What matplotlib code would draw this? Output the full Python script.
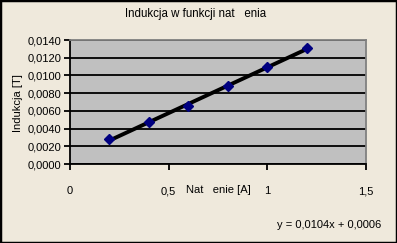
import numpy as np
import matplotlib.pyplot as plt
from matplotlib.ticker import FuncFormatter

plt.rcParams['font.family'] = ['Liberation Sans', 'DejaVu Sans']

# measured data: current [A] vs induction [T]
natezenie = [0.2, 0.4, 0.6, 0.8, 1.0, 1.2]
indukcja = [0.0028, 0.0047, 0.0066, 0.0088, 0.0109, 0.0131]

x_ticks = [0, 0.5, 1, 1.5]
x_tick_labels = ['0', '0,5', '1', '1,5']
y_ticks = np.arange(0, 0.0141, 0.002)

bg = '#EFE9DC'

fig = plt.figure(figsize=(3.97, 2.43), dpi=100, facecolor=bg)
W, H = 397, 243
ax = fig.add_axes([70 / W, 1 - 164 / H, 296 / W, 124 / H])
ax.set_facecolor('#C0C0C0')

# linear trendline
a, b = np.polyfit(natezenie, indukcja, 1)
xs = np.array([min(natezenie), max(natezenie)])
ax.plot(xs, a * xs + b, color='black', lw=2.8, zorder=3)
ax.plot(natezenie, indukcja, 'D', color='#000080', ms=4.8, zorder=4)

ax.set_xlim(0, 1.5)
ax.set_ylim(0, 0.014)
ax.set_xticks(x_ticks)
ax.set_xticklabels(x_tick_labels)
ax.set_yticks(y_ticks)
ax.yaxis.set_major_formatter(FuncFormatter(lambda v, p: f'{v:.4f}'.replace('.', ',')))
ax.grid(axis='y', color='black', lw=1.3)
ax.set_axisbelow(True)

ax.tick_params(axis='both', direction='out', length=4, width=1.3, labelsize=8, colors='black')
ax.tick_params(axis='x', pad=12)
ax.tick_params(axis='y', pad=2)
for s in ['left', 'bottom']:
    ax.spines[s].set_color('black')
    ax.spines[s].set_linewidth(1.3)
for s in ['top', 'right']:
    ax.spines[s].set_color('#808080')
    ax.spines[s].set_linewidth(1.3)

fig.text(125 / W, 1 - 14 / H, 'Indukcja w funkcji nat   enia', ha='left', va='center', fontsize=8.3)
fig.text(18 / W, 1 - 103 / H, 'Indukcja [T]', ha='center', va='center', rotation=90, fontsize=8)
fig.text(218 / W, 1 - 190 / H, 'Nat   enie [A]', ha='center', va='center', fontsize=8)
fig.text(381 / W, 1 - 225 / H, 'y = 0,0104x + 0,0006', ha='right', va='center', fontsize=8)

# outer frame
fig.patches.append(plt.Rectangle((0, 0), 1, 1, transform=fig.transFigure,
                                 fill=False, ec='black', lw=2.5))

fig.savefig('out.png', dpi=100, facecolor=bg)
